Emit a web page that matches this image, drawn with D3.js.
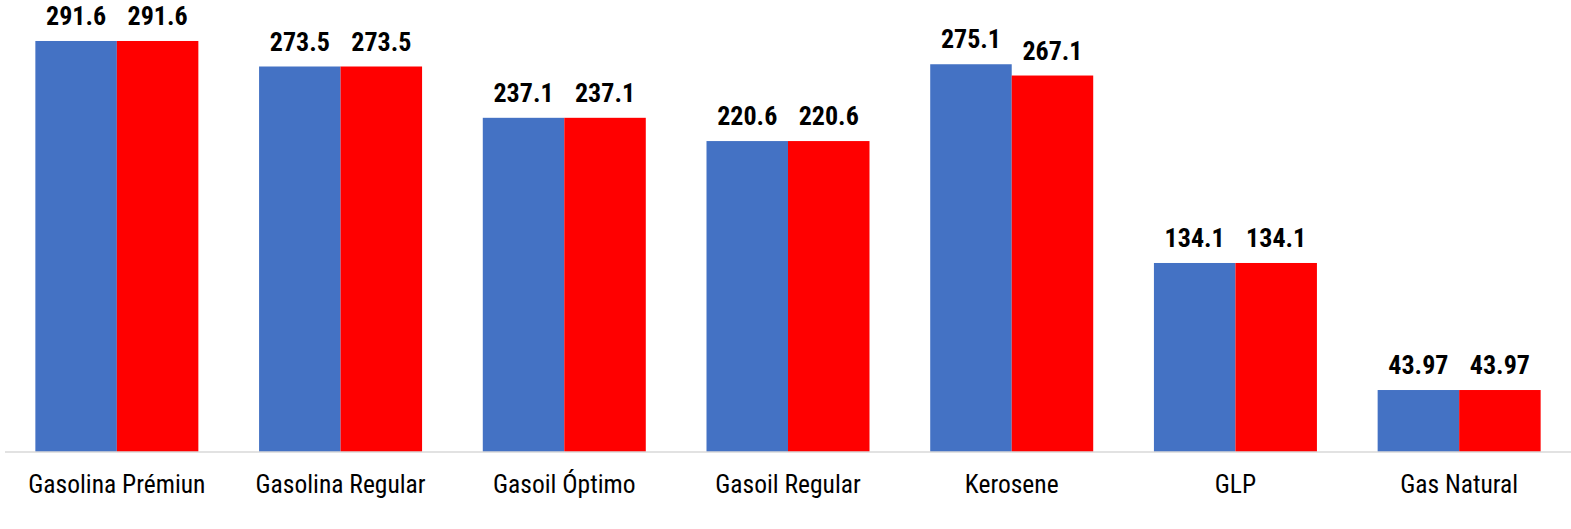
<!DOCTYPE html>
<html><head><meta charset="utf-8">
<script src="https://cdn.jsdelivr.net/npm/d3@7"></script>
<style>body{margin:0;background:#fff}svg{display:block}</style>
</head><body>
<script>
const categories = ["Gasolina Prémiun","Gasolina Regular","Gasoil Óptimo","Gasoil Regular","Kerosene","GLP","Gas Natural"];
const seriesA = [291.6, 273.5, 237.1, 220.6, 275.1, 134.1, 43.97];
const seriesB = [291.6, 273.5, 237.1, 220.6, 267.1, 134.1, 43.97];
const colors = ["#4472C4","#FF0000"];

const W = 1571, H = 529;
const font = "'Liberation Sans Narrow','Arial Narrow','Roboto Condensed',sans-serif";
const svg = d3.select("body").append("svg").attr("width",W).attr("height",H);

const x0b = d3.scaleBand().domain(categories).range([5,1571]);
const y = d3.scaleLinear().domain([0,300]).range([452, 452-300*1.4095]);

const data = categories.map((c,i)=>({c, vals:[seriesA[i],seriesB[i]]}));
const groups = svg.selectAll("g.grp").data(data).join("g")
  .attr("transform", d=>`translate(${x0b(d.c)+x0b.bandwidth()/2-81.5},0)`);
const x1 = d3.scaleBand().domain([0,1]).range([0,163]);
groups.selectAll("rect").data(d=>d.vals).join("rect")
  .attr("x",(v,i)=>x1(i)).attr("width",x1.bandwidth())
  .attr("y",v=>y(v)).attr("height",v=>y(0)-y(v))
  .attr("fill",(v,i)=>colors[i]);
groups.selectAll("text").data(d=>d.vals).join("text")
  .attr("x",(v,i)=>x1(i)+x1.bandwidth()/2).attr("y",v=>y(v)-16)
  .attr("text-anchor","middle").attr("font-family",font).attr("font-weight","bold")
  .attr("font-size",26).attr("fill","#000").text(v=>v);

// axis
const ax = svg.append("g").attr("transform","translate(0,452)")
  .call(d3.axisBottom(x0b).tickSize(0).tickPadding(0));
ax.select(".domain").attr("stroke","#d9d9d9").attr("stroke-width",1.5).attr("d","M5,0H1571");
ax.selectAll("text").attr("font-family",font).attr("font-size",25.5).attr("fill","#000").attr("dy",0).attr("y",41);
</script>
</body></html>
